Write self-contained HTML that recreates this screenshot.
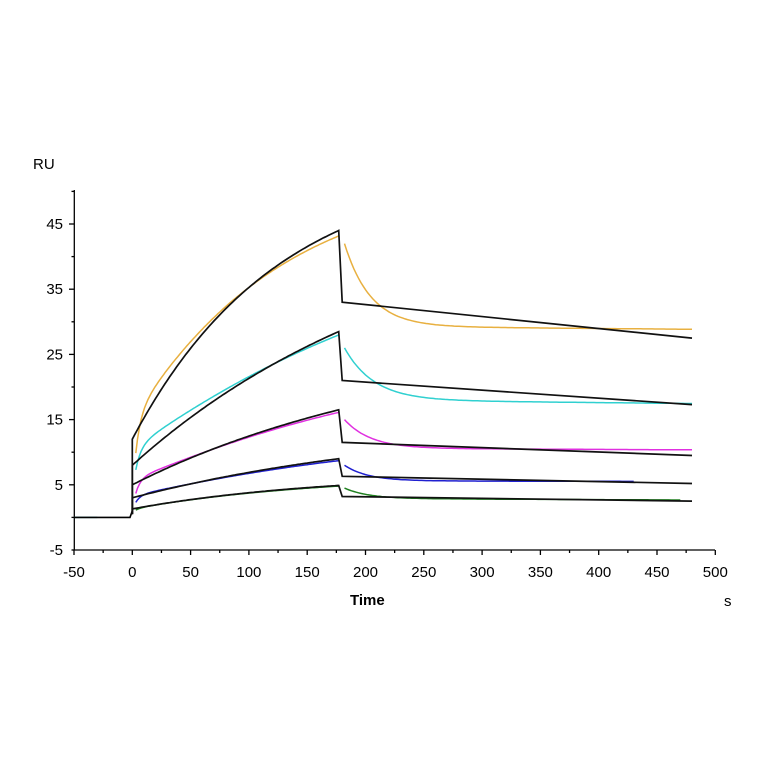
<!DOCTYPE html>
<html><head><meta charset="utf-8"><style>
html,body{margin:0;padding:0;background:#fff;}
svg{display:block;font-family:"Liberation Sans",Arial,sans-serif;}
</style></head><body>
<svg id="s" width="764" height="764" viewBox="0 0 764 764" xmlns="http://www.w3.org/2000/svg">
<rect width="764" height="764" fill="#fff"/>
<g id="ax" stroke="#000" stroke-width="1.3" fill="none"></g>
<g id="lab" font-size="15" fill="#000"></g>
<text x="33" y="169" font-size="15">RU</text>
<text x="350" y="605" font-size="15" font-weight="bold">Time</text>
<text x="724" y="606" font-size="15">s</text>
<g id="cur" fill="none"></g>
</svg>
<script>
var X=function(t){return 132.3+1.166*t;},Y=function(v){return 550-(v+5)*6.52;};
var ax=document.getElementById('ax'),lab=document.getElementById('lab'),cur=document.getElementById('cur');
var h='<line x1="74.3" y1="190" x2="74.3" y2="550"/><line x1="74.3" y1="550" x2="715" y2="550"/>';
for(var t=-50;t<=500;t+=25){var x=X(t);h+='<line x1="'+x+'" y1="550" x2="'+x+'" y2="'+(t%50==0?555:553)+'"/>';}
for(var v=-5;v<=50;v+=5){var y=Y(v);h+='<line x1="'+(v%10==5?69:71.5)+'" y1="'+y+'" x2="74.3" y2="'+y+'"/>';}
ax.innerHTML=h;
var l='';
for(var t=-50;t<=500;t+=50){l+='<text x="'+X(t)+'" y="577" text-anchor="middle">'+t+'</text>';}
for(var v=-5;v<=45;v+=10){l+='<text x="63" y="'+(Y(v)+5)+'" text-anchor="end">'+v+'</text>';}
lab.innerHTML=l;
function path(pts){return pts.map(function(p,i){return (i?'L':'M')+X(p[0]).toFixed(1)+' '+Y(p[1]).toFixed(1);}).join(' ');}
function add(d,c,w){cur.innerHTML+='<path d="'+d+'" stroke="'+c+'" stroke-width="'+w+'"/>';}
function fitf(f){var n=1-Math.exp(-f[4]*177);return function(t){return f[0]+(f[1]-f[0])*(1-Math.exp(-f[4]*t))/n;};}
function diss(v0,vp,k,t0,t1,lin){var p=[];for(var t=t0;t<=t1;t+=2)p.push([t,vp-lin*(t-t0)+(v0-vp)*Math.exp(-k*(t-t0))]);return p;}
var fits=[[12,44,33,27.5,0.008],[8,28.5,21,17.3,0.004],[5,16.5,11.5,9.5,0.004],[3,9,6.3,5.2,0.004],[1.3,4.9,3.2,2.5,0.006]];
function data(fi,dip,bump,bt,endoff){var F=fitf(fits[fi]),p=[];for(var t=3;t<=177;t+=1.5)p.push([t,F(t)-dip*Math.exp(-t/4)+bump*(1-Math.exp(-t/6))*Math.exp(-t/bt)-endoff*t/177]);return p;}
add(path(data(0,9,3,60,1)),'#e8b040',1.5);add(path(diss(42,29.3,0.045,182,480,0.0015)),'#e8b040',1.5);
add(path(data(1,4.5,2.5,80,0.8)),'#30d0d0',1.5);add(path(diss(26,18,0.04,182,480,0.0018)),'#30d0d0',1.5);
add(path(data(2,4,0.8,40,0.4)),'#e030e0',1.5);add(path(diss(15,10.6,0.045,182,480,0.0008)),'#e030e0',1.5);
add(path(data(3,2,0.3,40,0.3)),'#2020d0',1.5);add(path(diss(8,5.6,0.05,182,430,0.0003)),'#2020d0',1.5);
add(path(data(4,0.6,0,40,0.1)),'#208020',1.5);add(path(diss(4.5,2.9,0.05,182,470,0.0008)),'#208020',1.5);
add(path([[-50,0],[-30,0]]),'#30b0b0',1.5);
add(path([[-50,0],[-2,0],[0,1]]),'#000',1.6);
fits.forEach(function(f){
  var F=fitf(f),p=[[0,0.5]];
  for(var t=0;t<=177;t+=2)p.push([t,F(t)]);
  p.push([177,f[1]]);p.push([180,f[2]]);p.push([480,f[3]]);
  add(path(p),'#111',1.7);
});
</script>
</body></html>
